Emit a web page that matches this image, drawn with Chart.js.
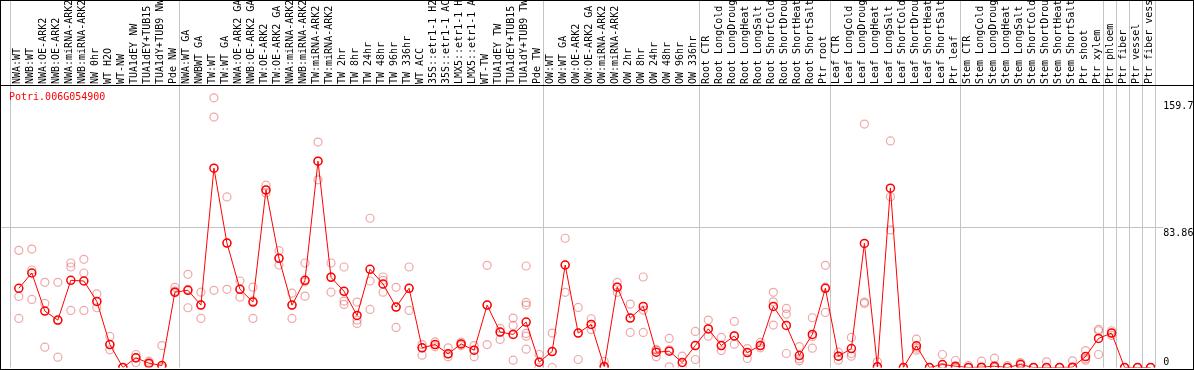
<!DOCTYPE html>
<html>
<head>
<meta charset="utf-8">
<script src="https://cdn.jsdelivr.net/npm/chart.js@4.4.1/dist/chart.umd.min.js"></script>
<style>
  html, body { margin: 0; padding: 0; background: #fff; }
  #wrap { width: 1192px; height: 368px; border: 1px solid #000; }
  canvas { display: block; }
</style>
</head>
<body>
<div id="wrap"><canvas id="chart" width="1192" height="368"></canvas></div>
<script>
const geneName = 'Potri.006G054900';

const categories = [
  'NWA:WT', 'NWB:WT', 'NWA:OE-ARK2', 'NWB:OE-ARK2', 'NWA:miRNA-ARK2', 'NWB:miRNA-ARK2',
  'NW 0hr', 'WT H2O', 'WT-NW', 'TUA1dEY NW', 'TUA1dEY+TUB15 NW', 'TUA1dY+TUB9 NW', 'Pde NW',
  'NWA:WT GA', 'NWBWT GA', 'TW:WT', 'TW:WT GA', 'NWA:OE-ARK2 GA', 'NWB:OE-ARK2 GA',
  'TW:OE-ARK2', 'TW:OE-ARK2 GA', 'NWA:miRNA-ARK2', 'NWB:miRNA-ARK2', 'TW:miRNA-ARK2',
  'TW:miRNA-ARK2', 'TW 2hr', 'TW 8hr', 'TW 24hr', 'TW 48hr', 'TW 96hr', 'TW 336hr',
  'WT ACC', '35S::etr1-1 H2O', '35S::etr1-1 ACC', 'LMX5::etr1-1 H2O', 'LMX5::etr1-1 ACC',
  'WT-TW', 'TUA1dEY TW', 'TUA1dEY+TUB15 TW', 'TUA1dY+TUB9 TW', 'Pde TW',
  'OW:WT', 'OW:WT GA', 'OW:OE-ARK2', 'OW:OE-ARK2 GA', 'OW:miRNA-ARK2', 'OW:miRNA-ARK2',
  'OW 2hr', 'OW 8hr', 'OW 24hr', 'OW 48hr', 'OW 96hr', 'OW 336hr',
  'Root CTR', 'Root LongCold', 'Root LongDrought', 'Root LongHeat', 'Root LongSalt',
  'Root ShortCold', 'Root ShortDrought', 'Root ShortHeat', 'Root ShortSalt', 'Ptr root',
  'Leaf CTR', 'Leaf LongCold', 'Leaf LongDrought', 'Leaf LongHeat', 'Leaf LongSalt',
  'Leaf ShortCold', 'Leaf ShortDrought', 'Leaf ShortHeat', 'Leaf ShortSalt', 'Ptr leaf',
  'Stem CTR', 'Stem LongCold', 'Stem LongDrought', 'Stem LongHeat', 'Stem LongSalt',
  'Stem ShortCold', 'Stem ShortDrought', 'Stem ShortHeat', 'Stem ShortSalt', 'Ptr shoot',
  'Ptr xylem', 'Ptr phloem', 'Ptr fiber', 'Ptr vessel', 'Ptr fiber vessel'
];

// mean expression per sample (red line)
const means = [
  47.6, 56.8, 33.9, 28.5, 52.4, 52.0, 39.7, 13.8, 0, 5.8, 2.6, 1.2, 45.3,
  46.4, 37.5, 119.8, 74.8, 47.0, 39.3, 106.7, 65.6, 37.5, 52.4, 124.0, 54.2,
  45.8, 31.3, 59.0, 50.2, 36.3, 47.6, 11.8, 13.8, 8.2, 14.2, 10.4, 37.5,
  21.3, 19.9, 27.3, 3.2,
  9.6, 61.6, 20.7, 25.9, 0.6, 48.3, 29.7, 36.7, 9.2, 9.8, 3.0, 13.2,
  23.2, 13.2, 19.0, 9.0, 13.2, 36.7, 25.3, 7.2, 19.9, 47.6,
  6.8, 11.4, 74.6, 0.4, 107.8, 0, 13.0, 0, 1.8, 0.8,
  0, 0.2, 0.8, 0, 1.8, 0, 0, 0, 0.2, 6.6, 17.5,
  20.7, 0, 0, 0
];

// individual replicates (pink circles)
const replicates = [
  [70.4, 42.7, 29.5], [71.2, 58.6, 40.9], [51.2, 38.5, 12.2], [51.2, 28.2, 6.2],
  [62.8, 60.4, 34.3], [65.0, 56.8, 34.3], [44.3, 39.7, 35.9], [18.7, 13.8, 10.6],
  [0, 0, 0], [7.8, 5.8, 3.0], [3.8, 2.6, 1.8], [13.2, 1.2, 0], [48.2, 46.0, 45.0],
  [56.0, 47.0, 35.9], [45.3, 37.6, 29.5], [162.1, 150.5, 46.4], [102.5, 74.9, 47.0],
  [52.0, 47.0, 42.3], [48.3, 40.0, 29.5], [109.6, 106.7, 104.9], [70.2, 65.6, 61.6],
  [44.7, 37.5, 29.5], [62.8, 51.5, 42.9], [135.5, 124.0, 112.8], [62.8, 54.5, 45.3],
  [60.4, 39.9, 37.9], [39.3, 28.5, 26.5], [89.7, 52.0, 34.9], [54.4, 52.4, 45.3],
  [48.2, 36.3, 24.1], [60.4, 47.6, 34.3], [13.8, 11.8, 7.4], [15.4, 13.8, 12.4],
  [11.8, 8.2, 6.4], [15.2, 14.2, 13.2], [13.2, 10.4, 6.4], [61.4, 37.5, 13.8],
  [23.5, 21.3, 16.9], [29.7, 25.3, 19.9, 4.4], [61.0, 39.1, 37.5, 20.5, 18.8, 11.0],
  [7.8, 3.2, 0],
  [20.7, 9.6, 0], [77.7, 61.6, 45.2], [36.1, 20.7, 4.8], [29.3, 25.9, 22.9],
  [3.6, 0.6, 0], [51.2, 48.3, 45.2], [38.1, 29.7, 21.1], [54.4, 34.5, 21.1],
  [10.6, 10.6, 6.4], [17.5, 10.6, 0.4], [6.8, 3.0, 0], [21.7, 13.2, 4.8],
  [28.5, 23.2, 18.8], [18.1, 13.2, 10.2], [27.7, 19.0, 14.0], [11.4, 9.0, 5.4],
  [15.1, 13.2, 11.8], [45.2, 39.5, 25.5], [35.5, 32.1, 8.4], [12.6, 5.2, 4.0],
  [29.9, 18.7, 11.6], [61.4, 48.3, 33.1],
  [9.2, 6.8, 4.4], [18.1, 8.4, 6.8], [146.3, 39.3, 38.5], [3.4, 0.4, 0],
  [136.2, 102.7, 82.7], [0, 0, 0], [17.0, 11.6, 10.4], [0, 0, 0], [7.8, 0, 0],
  [4.2, 0, 0],
  [1.2, 0, 0], [3.8, 0, 0], [5.6, 0, 0], [1.2, 0, 0], [3.0, 2.4, 0], [0, 0, 0],
  [3.4, 0, 0], [0, 0, 0], [4.0, 0, 0], [10.2, 5.2, 4.4], [22.9, 22.1, 7.8],
  [22.1, 20.7, 19.3], [0, 0, 0], [0, 0, 0], [0, 0, 0]
];

// group separators: index of the first sample after each break
const groupBreaks = [0, 13, 41, 53, 63, 73, 84, 85, 86, 87, 88];
const yTickValues = [0, 83.86, 159.7];

const meanPoints = means.map((v, i) => ({ x: i, y: v }));
const repPoints = [];
replicates.forEach((arr, i) => arr.forEach(v => repPoints.push({ x: i, y: v })));

const monoFont = { family: '"DejaVu Sans Mono", monospace', size: 10 };
const breakShift = 0.638;

// separator under the sample names + gene name in the corner
const framePlugin = {
  id: 'frame',
  afterDraw(chart) {
    const ctx = chart.ctx;
    const a = chart.chartArea;
    const top = Math.round(a.top) - 0.5;
    ctx.save();
    ctx.strokeStyle = '#000';
    ctx.lineWidth = 1;
    ctx.beginPath();
    ctx.moveTo(0, top);
    ctx.lineTo(chart.width, top);
    ctx.stroke();
    ctx.fillStyle = '#ff0000';
    ctx.font = '10px "DejaVu Sans Mono", monospace';
    ctx.textBaseline = 'middle';
    ctx.fillText(geneName, 8, a.top + 11);
    ctx.restore();
  }
};

new Chart(document.getElementById('chart'), {
  type: 'line',
  data: {
    datasets: [
      {
        label: 'mean',
        data: meanPoints,
        borderColor: '#ff0000',
        borderWidth: 1,
        pointRadius: 4,
        pointBorderWidth: 1.5,
        pointBorderColor: '#ff0000',
        pointBackgroundColor: 'rgba(0,0,0,0)',
        tension: 0
      },
      {
        label: 'replicates',
        data: repPoints,
        showLine: false,
        pointRadius: 4,
        pointBorderWidth: 1.2,
        pointBorderColor: 'rgba(225,80,80,0.5)',
        pointBackgroundColor: 'rgba(0,0,0,0)'
      }
    ]
  },
  options: {
    responsive: false,
    animation: false,
    layout: { autoPadding: false, padding: { left: 0, right: 0, top: 0, bottom: 1.5 } },
    plugins: { legend: { display: false }, tooltip: { enabled: false } },
    scales: {
      x: {
        type: 'linear',
        position: 'top',
        bounds: 'data',
        min: -breakShift - 9.5 / 13.009,
        max: 88 - breakShift,
        afterBuildTicks(scale) {
          const t = categories.map((c, i) => ({ value: i, cat: i }));
          groupBreaks.forEach(k => t.push({ value: k - breakShift, brk: true }));
          t.sort((a, b) => a.value - b.value);
          scale.ticks = t;
        },
        afterFit(scale) {
          scale.height = 85;
          scale.paddingLeft = 0;
          scale.paddingRight = 0;
        },
        ticks: {
          autoSkip: false,
          minRotation: 90,
          maxRotation: 90,
          padding: -83,
          labelOffset: 10.5,
          color: '#000',
          font: monoFont,
          callback: (value, index, ticks) =>
            ticks[index].cat !== undefined ? categories[ticks[index].cat] : ''
        },
        grid: {
          color: c => (c.tick && c.tick.brk) ? '#c4c4c4' : 'rgba(0,0,0,0)',
          lineWidth: 1,
          tickLength: 85,
          drawOnChartArea: true
        },
        border: { display: false }
      },
      y: {
        type: 'linear',
        position: 'right',
        bounds: 'data',
        min: 0,
        max: 169.2,
        afterBuildTicks(scale) {
          scale.ticks = yTickValues.map(v => ({ value: v }));
        },
        afterFit(scale) {
          scale.width = 37.7;
          scale.paddingTop = 0;
          scale.paddingBottom = 0;
        },
        ticks: {
          padding: 0,
          color: '#000',
          font: { family: '"DejaVu Sans Mono", monospace', size: 10, lineHeight: 1.0 },
          callback: v => v === 0 ? ['0', ''] : ['', String(v)]
        },
        grid: {
          color: c => (c.tick && c.tick.value === 83.86) ? '#c4c4c4' : 'rgba(0,0,0,0)',
          tickLength: 8,
          drawOnChartArea: true
        },
        border: { display: false }
      }
    }
  },
  plugins: [framePlugin]
});
</script>
</body>
</html>
